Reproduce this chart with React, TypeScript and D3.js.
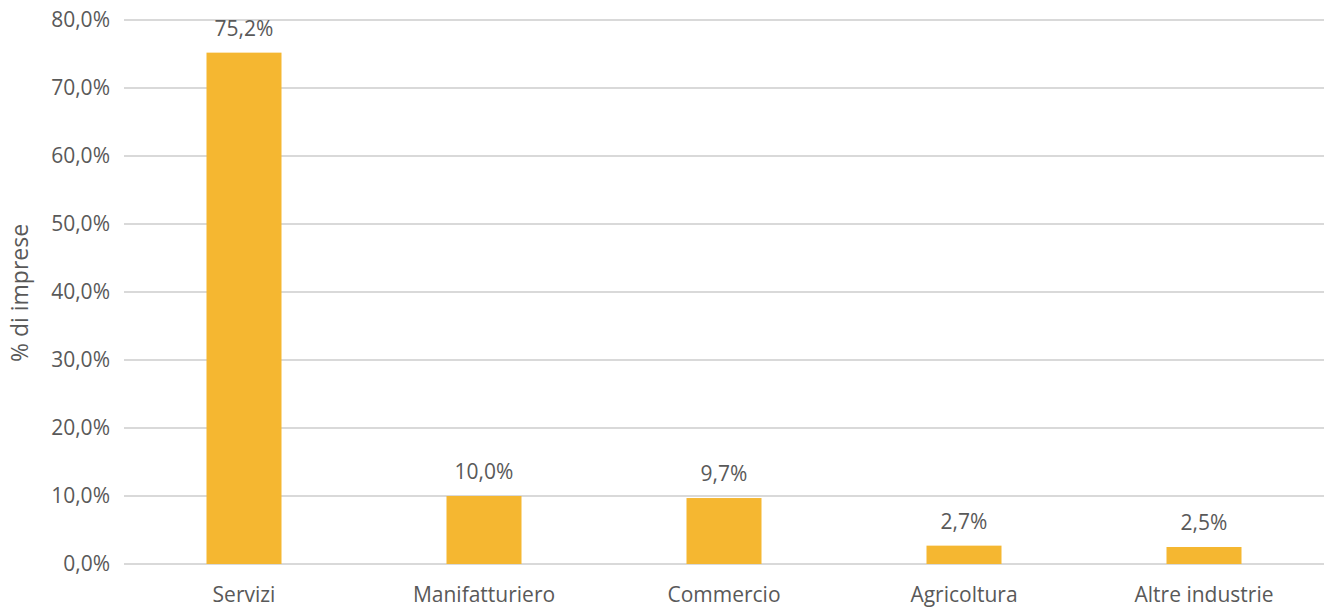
import React from 'react';
import * as d3 from 'd3';

const categories = ['Servizi', 'Manifatturiero', 'Commercio', 'Agricoltura', 'Altre industrie'];
const values = [75.2, 10.0, 9.7, 2.7, 2.5];
const yTicks = [0, 10, 20, 30, 40, 50, 60, 70, 80];

const W = 1326;
const H = 608;
const margin = { top: 20, right: 2, bottom: 44, left: 124 };
const FONT = '"Open Sans", sans-serif';
const TEXT = '#595959';

const fmt = (v: number) => v.toFixed(1).replace('.', ',') + '%';

const App: React.FC = () => {
  const x = d3.scaleBand<string>()
    .domain(categories)
    .range([margin.left, W - margin.right])
    .paddingInner(0.6875)
    .paddingOuter(0.34375);

  const y = d3.scaleLinear()
    .domain([0, 80])
    .range([H - margin.bottom, margin.top]);

  return (
    <div style={{ position: 'absolute', left: 0, top: 0 }}>
      <svg width={W} height={H} style={{ display: 'block', background: '#fff' }}>
        {/* gridlines + y labels */}
        {yTicks.map(t => (
          <g key={t}>
            <line x1={margin.left} x2={W - margin.right} y1={y(t)} y2={y(t)}
              stroke="#d9d9d9" strokeWidth={2} />
            <text x={110} y={y(t)} dy="0.35em" textAnchor="end"
              fontFamily={FONT} fontSize={21} fill={TEXT}>{fmt(t)}</text>
          </g>
        ))}

        {/* y axis title */}
        <text transform={`translate(28,293) rotate(-90)`} textAnchor="middle"
          fontFamily={FONT} fontSize={23} fill={TEXT}>% di imprese</text>

        {/* bars */}
        {categories.map((c, i) => (
          <g key={c}>
            <rect x={x(c)} y={y(values[i])} width={x.bandwidth()} height={y(0) - y(values[i])}
              fill="#F5B731" />
            <text x={(x(c) ?? 0) + x.bandwidth() / 2} y={y(values[i]) - 17} textAnchor="middle"
              fontFamily={FONT} fontSize={21} fill={TEXT}>{fmt(values[i])}</text>
            <text x={(x(c) ?? 0) + x.bandwidth() / 2} y={y(0) + 38} textAnchor="middle"
              fontFamily={FONT} fontSize={21} fill={TEXT}>{c}</text>
          </g>
        ))}
      </svg>
    </div>
  );
};

export default App;
